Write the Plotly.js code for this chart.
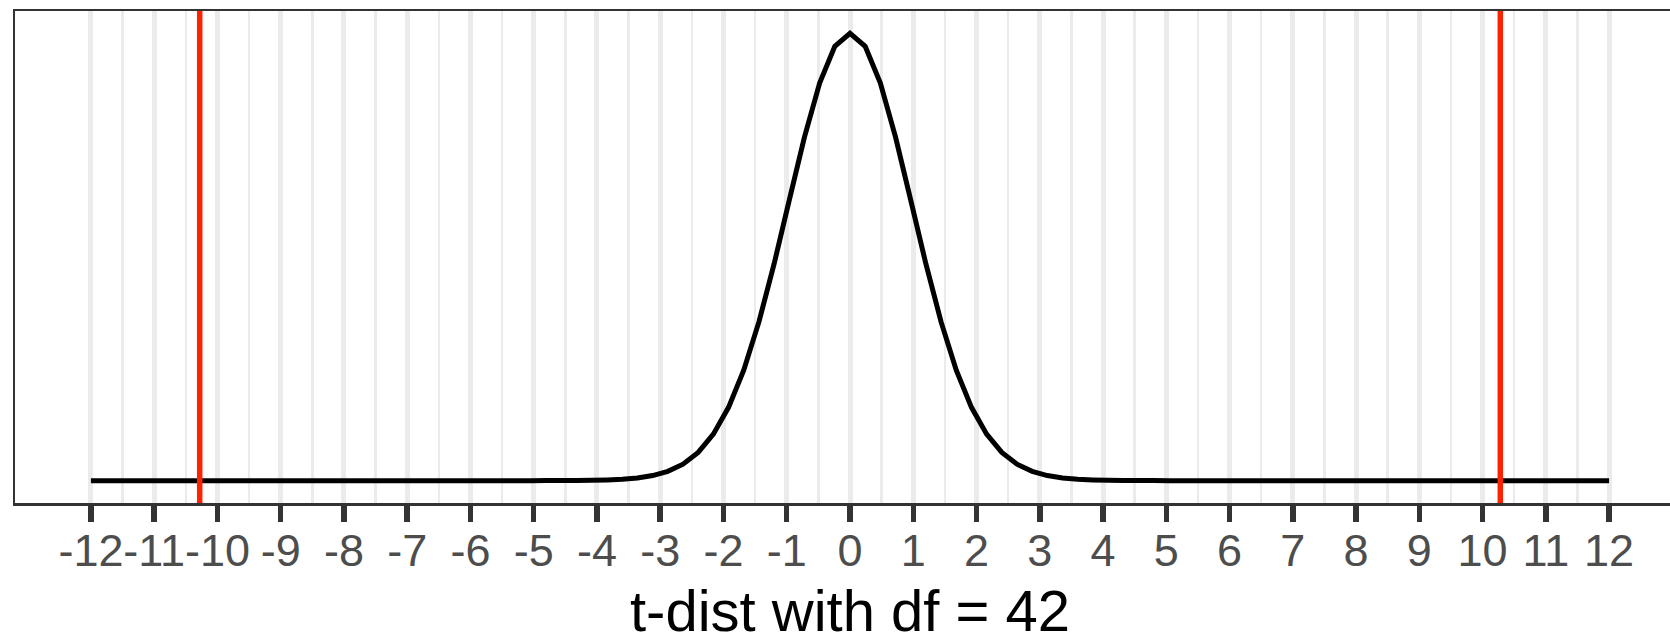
<!DOCTYPE html>
<html>
<head>
<meta charset="utf-8">
<script src="https://cdn.plot.ly/plotly-3.0.1.min.js"></script>
<style>
  html, body { margin: 0; padding: 0; overflow: hidden; background: #ffffff; }
  #chart { width: 1690px; height: 635px; }
</style>
</head>
<body>
<div id="chart"></div>
<script>
// t-values at which the density curve is drawn (-12 .. 12)
const tValues = [
  -12, -11.76, -11.52, -11.28, -11.04, -10.8, -10.56, -10.32, -10.08, -9.84,
  -9.6, -9.36, -9.12, -8.88, -8.64, -8.4, -8.16, -7.92, -7.68, -7.44,
  -7.2, -6.96, -6.72, -6.48, -6.24, -6, -5.76, -5.52, -5.28, -5.04,
  -4.8, -4.56, -4.32, -4.08, -3.84, -3.6, -3.36, -3.12, -2.88, -2.64,
  -2.4, -2.16, -1.92, -1.68, -1.44, -1.2, -0.96, -0.72, -0.48, -0.24,
  0,
  0.24, 0.48, 0.72, 0.96, 1.2, 1.44, 1.68, 1.92, 2.16, 2.4,
  2.64, 2.88, 3.12, 3.36, 3.6, 3.84, 4.08, 4.32, 4.56, 4.8,
  5.04, 5.28, 5.52, 5.76, 6, 6.24, 6.48, 6.72, 6.96, 7.2,
  7.44, 7.68, 7.92, 8.16, 8.4, 8.64, 8.88, 9.12, 9.36, 9.6,
  9.84, 10.08, 10.32, 10.56, 10.8, 11.04, 11.28, 11.52, 11.76, 12
];
// density of the t distribution (df = 42) at those points
const density = [
  0, 0, 0, 0, 0, 0, 0, 0, 0, 0,
  0, 0, 0, 0, 0, 0, 0, 0, 0, 0,
  0, 0, 0, 0, 0, 0, 0, 0, 0, 0,
  0.0000329, 0.0000697, 0.000146, 0.000303, 0.000615, 0.001221, 0.002374, 0.004487, 0.008229, 0.014612,
  0.02502, 0.04118, 0.06499, 0.09796, 0.14072, 0.19212, 0.24870, 0.30464, 0.35257, 0.38506,
  0.39658,
  0.38506, 0.35257, 0.30464, 0.24870, 0.19212, 0.14072, 0.09796, 0.06499, 0.04118, 0.02502,
  0.014612, 0.008229, 0.004487, 0.002374, 0.001221, 0.000615, 0.000303, 0.000146, 0.0000697, 0.0000329,
  0, 0, 0, 0, 0, 0, 0, 0, 0, 0,
  0, 0, 0, 0, 0, 0, 0, 0, 0, 0,
  0, 0, 0, 0, 0, 0, 0, 0, 0, 0
];
// critical / observed lines (red)
const redLines = [-10.28, 10.28];
// axis breaks
const majorBreaks = [-12,-11,-10,-9,-8,-7,-6,-5,-4,-3,-2,-1,0,1,2,3,4,5,6,7,8,9,10,11,12];
const minorBreaks = [-11.5,-10.5,-9.5,-8.5,-7.5,-6.5,-5.5,-4.5,-3.5,-2.5,-1.5,-0.5,0.5,1.5,2.5,3.5,4.5,5.5,6.5,7.5,8.5,9.5,10.5,11.5];
const tickLabels = majorBreaks.map(String);
const xTitle = 't-dist with df = 42';

const traces = [{
  x: tValues,
  y: density,
  type: 'scatter',
  mode: 'lines',
  line: { color: '#000000', width: 5, simplify: false },
  hoverinfo: 'skip',
  showlegend: false
}];

const shapes = redLines.map(v => ({
  type: 'line',
  xref: 'x', yref: 'y domain',
  x0: v, x1: v, y0: 0, y1: 1,
  line: { color: '#ff2200', width: 5.5 },
  layer: 'above'
}));

const layout = {
  width: 1690,
  height: 635,
  margin: { l: 15, r: 5, t: 11, b: 132 },
  paper_bgcolor: '#ffffff',
  plot_bgcolor: '#ffffff',
  showlegend: false,
  font: { family: 'Liberation Sans, Arial, sans-serif' },
  xaxis: {
    range: [-13.2, 13.2],
    tickmode: 'array',
    tickvals: majorBreaks,
    ticktext: tickLabels,
    tickangle: 0,
    ticks: 'outside',
    ticklen: 16,
    tickwidth: 5.5,
    tickcolor: '#333333',
    tickfont: { size: 45, color: '#4d4d4d', family: 'Liberation Sans, Arial, sans-serif' },
    ticklabelstandoff: -10,
    showgrid: true,
    gridcolor: '#ebebeb',
    gridwidth: 5,
    minor: {
      tickmode: 'array',
      tickvals: minorBreaks,
      showgrid: true,
      gridcolor: '#ebebeb',
      gridwidth: 2.5,
      ticks: ''
    },
    zeroline: false,
    showline: true,
    mirror: true,
    linecolor: '#333333',
    linewidth: 2.5,
    automargin: false
  },
  yaxis: {
    range: [-0.01983, 0.41641],
    showticklabels: false,
    ticks: '',
    showgrid: false,
    zeroline: false,
    showline: true,
    mirror: true,
    linecolor: '#333333',
    linewidth: 2.5
  },
  annotations: [{
    text: xTitle,
    xref: 'paper', yref: 'paper',
    x: 0.5, y: -0.2175,
    xanchor: 'center', yanchor: 'middle',
    showarrow: false,
    font: { size: 58, color: '#000000', family: 'Liberation Sans, Arial, sans-serif' }
  }],
  shapes: shapes
};

Plotly.newPlot('chart', traces, layout, { staticPlot: true, displayModeBar: false });
</script>
</body>
</html>
